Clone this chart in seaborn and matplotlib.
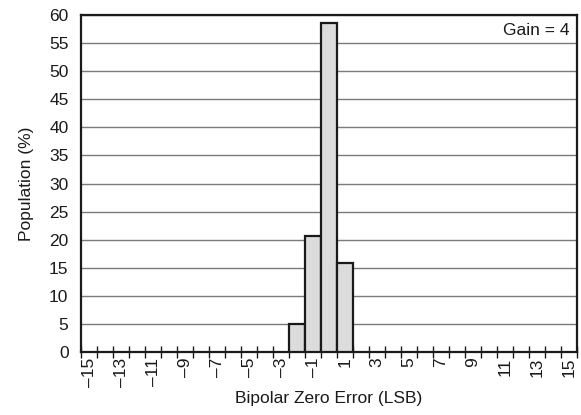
import matplotlib
matplotlib.use("Agg")
import matplotlib.pyplot as plt
import seaborn as sns
import pandas as pd
import numpy as np
from matplotlib.ticker import FixedLocator

# Data
error_lsb = list(range(-15, 16))
population = [0.0] * len(error_lsb)
bar_values = {-2: 5.0, -1: 20.7, 0: 58.6, 1: 15.8}
for k, v in bar_values.items():
    population[error_lsb.index(k)] = v
label_values = list(range(-15, 16, 2))
y_ticks = list(range(0, 61, 5))

sns.set_style("white")
plt.rcParams['font.family'] = ['Liberation Sans', 'DejaVu Sans']

df = pd.DataFrame({"err": error_lsb, "pop": population})
nonzero = df[df["pop"] > 0]

FS = 12.5

fig = plt.figure(figsize=(5.81, 4.15), dpi=100)
ax = fig.add_axes([81/581, 1 - 352/415, (577 - 81)/581, (352 - 15)/415])

order = [str(v) for v in error_lsb]
sns.barplot(x=nonzero["err"].astype(str), y=nonzero["pop"], order=order,
            color="#dcdcdc", saturation=1, width=1.0, edgecolor="#1a1a1a",
            linewidth=1.6, ax=ax, zorder=3)
for p in ax.patches:
    p.set_facecolor("#dcdcdc")

ax.set_xlim(-0.5, len(error_lsb) - 0.5)
ax.set_ylim(0, 60)
ax.set_yticks(y_ticks)
ax.set_yticklabels([str(v) for v in y_ticks], fontsize=FS, color="#1a1a1a")
ax.yaxis.grid(True, color="#7a7a7a", linewidth=1.0, zorder=0)
ax.xaxis.grid(False)
ax.set_axisbelow(True)

major_pos = [error_lsb.index(v) for v in label_values]
ax.set_xticks(major_pos)
ax.set_xticklabels([str(v).replace("-", "\u2013") for v in label_values],
                   rotation=90, fontsize=FS, color="#1a1a1a")
ax.xaxis.set_minor_locator(FixedLocator(np.arange(-0.5, len(error_lsb), 1.0)))
ax.tick_params(axis="x", which="major", length=0, pad=4)
ax.tick_params(axis="x", which="minor", direction="inout", length=8,
               width=1.0, color="#1a1a1a", bottom=True)
ax.tick_params(axis="y", which="major", length=0, pad=9)

for s in ax.spines.values():
    s.set_visible(True)
    s.set_color("#1a1a1a")
    s.set_linewidth(1.6)

ax.set_xlabel("Bipolar Zero Error (LSB)", fontsize=FS, color="#1a1a1a")
ax.xaxis.set_label_coords(0.5, -0.137)
ax.xaxis.label.set_va("center")
ax.set_ylabel("Population (%)", fontsize=FS, labelpad=11, color="#1a1a1a")
ax.text(0.985, 0.975, "Gain = 4", transform=ax.transAxes, ha="right",
        va="top", fontsize=FS, color="#1a1a1a")

fig.savefig("out.png", dpi=100)
